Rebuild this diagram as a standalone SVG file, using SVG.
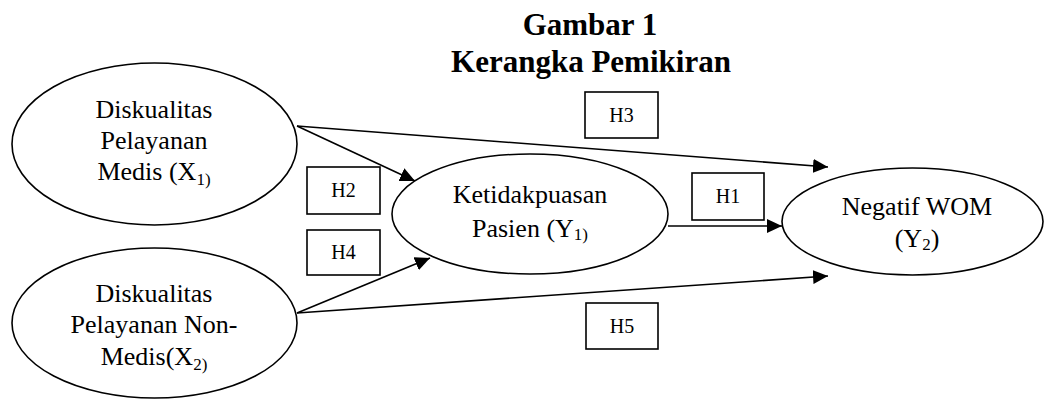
<svg xmlns="http://www.w3.org/2000/svg" width="1045" height="400" viewBox="0 0 1045 400">
<style>
.node{fill:#fff;stroke:#000;stroke-width:1.6}
.box{fill:#fff;stroke:#000;stroke-width:1.6}
.t{font-family:"Liberation Serif","Times New Roman",serif;font-size:26px;fill:#000;text-anchor:middle}
.lbl{font-family:"Liberation Serif","Times New Roman",serif;font-size:20px;fill:#000;text-anchor:middle}
.title{font-family:"Liberation Serif","Times New Roman",serif;font-size:31px;font-weight:bold;fill:#000;text-anchor:middle}
.sub{font-size:17px}
.edge{stroke:#000;stroke-width:1.6;fill:none;marker-end:url(#ah)}
</style>
<defs>
<marker id="ah" markerUnits="userSpaceOnUse" markerWidth="16" markerHeight="14" refX="15" refY="7" orient="auto">
<path d="M0,0 L15,7 L0,14 Z" fill="#000"/>
</marker>
</defs>
<rect width="1045" height="400" fill="#fff"/>
<g id="title">
<text class="title" x="590" y="35">Gambar 1</text>
<text class="title" x="591" y="72">Kerangka Pemikiran</text>
</g>
<g id="connectors">
<line class="edge" x1="297" y1="126" x2="415" y2="181"/>
<line class="edge" x1="297" y1="126" x2="828" y2="167"/>
<line class="edge" x1="668" y1="226" x2="782" y2="226"/>
<line class="edge" x1="297" y1="313" x2="430" y2="258"/>
<line class="edge" x1="297" y1="313" x2="828" y2="276"/>
</g>
<g id="x1">
<ellipse class="node" cx="154.5" cy="144" rx="142.5" ry="81"/>
<text class="t" x="154" y="118">Diskualitas</text>
<text class="t" x="154" y="149">Pelayanan</text>
<text class="t" x="154" y="180">Medis (X<tspan class="sub" dy="5">1)</tspan></text>
</g>
<g id="x2">
<ellipse class="node" cx="154.5" cy="323" rx="142.5" ry="75"/>
<text class="t" x="154" y="302">Diskualitas</text>
<text class="t" x="154" y="333">Pelayanan Non-</text>
<text class="t" x="154" y="365">Medis(X<tspan class="sub" dy="5">2)</tspan></text>
</g>
<g id="y1">
<ellipse class="node" cx="530" cy="214" rx="138" ry="60"/>
<text class="t" x="530" y="203">Ketidakpuasan</text>
<text class="t" x="530" y="237">Pasien (Y<tspan class="sub" dy="3">1)</tspan></text>
</g>
<g id="y2">
<ellipse class="node" cx="912.5" cy="221.5" rx="130.5" ry="53.5"/>
<text class="t" x="917" y="215">Negatif WOM</text>
<text class="t" x="917" y="247">(Y<tspan class="sub" dy="3">2</tspan><tspan dy="-3">)</tspan></text>
</g>
<g id="h1"><rect class="box" x="692" y="173" width="72" height="47"/><text class="lbl" x="728" y="203">H1</text></g>
<g id="h2"><rect class="box" x="307" y="167" width="73" height="47"/><text class="lbl" x="343.5" y="197">H2</text></g>
<g id="h3"><rect class="box" x="585" y="92" width="73" height="46"/><text class="lbl" x="621.5" y="122">H3</text></g>
<g id="h4"><rect class="box" x="307" y="230" width="73" height="45"/><text class="lbl" x="343.5" y="259">H4</text></g>
<g id="h5"><rect class="box" x="586" y="303" width="72" height="46"/><text class="lbl" x="622" y="333">H5</text></g>
</svg>
